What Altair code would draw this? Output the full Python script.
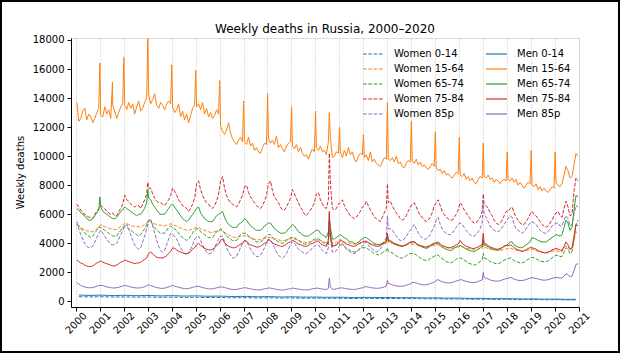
import altair as alt
import pandas as pd

YEARS = list(range(2000, 2021))

# ---- monthly weekly-death levels ----
w1564 = [
 [5300,5200,5100,5000,4950,4850,4850,4800,4800,4900,5000,5100],
 [5300,5200,5150,5100,5050,5000,5000,4950,4950,5050,5150,5250],
 [5400,5350,5300,5250,5200,5150,5150,5150,5100,5200,5300,5400],
 [5600,5500,5400,5350,5300,5250,5250,5200,5200,5250,5300,5350],
 [5300,5250,5200,5100,5050,5000,4950,4900,4900,4950,5000,5050],
 [5100,5100,5000,4950,4900,4850,4800,4750,4750,4800,4850,4850],
 [4900,4850,4750,4650,4600,4500,4450,4400,4400,4450,4500,4500],
 [4550,4500,4450,4400,4350,4300,4250,4250,4250,4300,4350,4350],
 [4400,4400,4350,4300,4300,4250,4200,4200,4200,4250,4300,4300],
 [4350,4300,4250,4200,4150,4100,4100,4050,4050,4100,4150,4200],
 [4250,4250,4200,4150,4100,4050,4300,4400,4000,4000,4050,4100],
 [4300,4150,4100,4050,4050,4000,3950,3950,3950,4000,4050,4050],
 [4100,4100,4050,4000,3950,3950,3900,3900,3900,3950,4000,4000],
 [4050,4050,4000,3950,3950,3900,3850,3850,3850,3900,3950,3950],
 [3950,3950,3900,3850,3850,3800,3800,3750,3750,3800,3850,3850],
 [3900,3900,3800,3750,3750,3700,3700,3650,3650,3700,3750,3750],
 [3800,3750,3700,3650,3650,3600,3600,3550,3550,3600,3650,3650],
 [3700,3700,3650,3600,3600,3550,3550,3500,3500,3550,3600,3600],
 [3650,3650,3650,3550,3550,3500,3500,3450,3450,3500,3550,3550],
 [3600,3550,3500,3450,3400,3400,3350,3350,3350,3400,3450,3500],
 [3500,3450,3400,3450,3650,3850,3750,3550,3600,4200,4800,4700],
]
w6574 = [
 [5300,5200,5000,4900,4700,4600,4500,4400,4500,4700,4900,5100],
 [5100,5000,4900,4800,4700,4600,4500,4500,4500,4700,4900,5100],
 [5200,5100,5000,4900,4800,4700,4600,4500,4600,4800,5000,5300],
 [5600,5500,5300,5100,4900,4800,4700,4700,4700,4900,5100,5200],
 [5100,5000,4900,4700,4500,4400,4300,4200,4300,4500,4700,4900],
 [5000,5000,4800,4700,4600,4500,4400,4400,4400,4600,4800,4900],
 [5000,4900,4700,4500,4400,4300,4200,4200,4200,4400,4600,4700],
 [4700,4700,4500,4400,4300,4200,4100,4100,4100,4200,4400,4500],
 [4600,4600,4400,4300,4200,4100,4050,4000,4050,4200,4300,4400],
 [4400,4400,4300,4200,4100,4000,3950,3950,4000,4100,4200,4300],
 [4300,4300,4200,4100,4000,3900,4200,4400,3800,3800,3900,4000],
 [3900,3900,3800,3700,3600,3500,3450,3400,3450,3550,3650,3700],
 [3700,3700,3600,3500,3400,3300,3250,3200,3250,3350,3450,3500],
 [3450,3400,3350,3250,3150,3050,3000,3000,3050,3150,3250,3300],
 [3300,3300,3200,3100,3000,2900,2850,2800,2850,2950,3050,3100],
 [3200,3200,3050,2950,2850,2750,2700,2650,2700,2800,2900,3000],
 [3000,2950,2850,2750,2650,2600,2550,2500,2550,2650,2750,2850],
 [3000,2950,2850,2750,2700,2650,2600,2600,2650,2750,2850,2900],
 [2950,3000,2950,2800,2750,2700,2650,2650,2700,2800,2900,2950],
 [3050,3000,2950,2850,2800,2750,2750,2750,2800,2900,3000,3100],
 [3200,3150,3100,3100,3400,3700,3600,3300,3400,4300,5300,5600],
]
w7584 = [
 [6700,6500,6300,6100,6000,5900,5800,5800,5700,6000,6200,6400],
 [6600,6500,6400,6200,6100,6000,6100,5900,5900,6200,6400,6700],
 [7300,7000,6900,6700,6600,6500,6600,6600,6400,6700,7000,7400],
 [7800,7800,7400,7100,6900,6800,6800,6700,6600,6800,7000,7300],
 [7800,7600,7300,7000,6800,6600,6500,6400,6200,6400,6700,7100],
 [8100,8300,7700,7300,7000,6800,6700,6500,6400,6600,6900,7400],
 [8300,8600,7800,7300,7000,6800,6700,6600,6500,6700,7000,7300],
 [7900,8000,7500,7200,7000,6800,6600,6500,6400,6600,6900,7300],
 [8100,8300,7600,7200,7000,6800,6500,6300,6300,6500,6800,7100],
 [7700,7400,7100,6800,6500,6300,6000,5900,6100,6300,6500,6800],
 [7400,7500,7000,6700,6500,6400,7000,8200,6400,6300,6400,6700],
 [6800,7000,6600,6300,6100,5900,5800,5700,5800,6000,6200,6500],
 [6600,6900,6600,6300,6100,5800,5700,5600,5500,5800,6100,6400],
 [6800,6900,6600,6300,6100,5900,5700,5600,5700,5900,6200,6500],
 [6700,6800,6500,6200,5900,5800,5600,5500,5600,5800,6100,6600],
 [6800,7000,6600,6200,6000,5800,5700,5600,5600,5800,6000,6300],
 [6800,6600,6300,6100,5900,5700,5500,5400,5400,5600,5800,6200],
 [6700,6600,6400,6100,5900,5600,5400,5300,5400,5600,5900,6200],
 [6200,6400,6500,6100,5800,5600,5400,5300,5300,5500,5700,6000],
 [6200,6000,5900,5700,5500,5300,5200,5100,5200,5400,5600,5900],
 [6100,6200,5900,5800,6400,6900,6500,5900,6000,7600,8500,8300],
]
w85p = [
 [5500,5000,4600,4300,4000,3800,3700,3700,3800,4100,4400,4700],
 [4900,4700,4500,4300,4100,3950,3900,3900,4000,4300,4600,4900],
 [5200,5300,5000,4600,4200,3900,3700,3600,3700,4100,4500,5000],
 [5500,5700,5200,4700,4200,3800,3500,3400,3500,3900,4300,4700],
 [4600,4500,4300,4000,3700,3500,3300,3200,3300,3600,3900,4300],
 [4400,4500,4200,3900,3600,3400,3300,3300,3400,3700,4000,4300],
 [4500,4500,4100,3700,3400,3200,3000,3000,3100,3400,3700,4000],
 [4200,4100,3900,3600,3400,3200,3100,3100,3200,3400,3700,4000],
 [4300,4200,4000,3700,3400,3200,3050,3000,3100,3300,3600,3900],
 [4100,4000,3800,3600,3500,3400,3300,3300,3400,3500,3700,3800],
 [3900,3900,3700,3500,3400,3300,3700,4400,3400,3400,3500,3700],
 [3900,4000,3800,3600,3500,3400,3300,3300,3400,3500,3700,3800],
 [4000,4100,3900,3700,3600,3500,3400,3500,3600,3900,4200,4400],
 [5000,5000,4900,4700,4500,4300,4200,4200,4300,4500,4700,4900],
 [5100,5300,5000,4700,4500,4400,4300,4300,4400,4600,4900,5200],
 [5600,5800,5300,5000,4800,4700,4600,4600,4700,4900,5100,5300],
 [5400,5300,5100,4900,4700,4600,4500,4500,4600,4800,5000,5400],
 [6000,5800,5500,5200,5000,4900,4800,4800,4900,5100,5300,5500],
 [5700,5900,5800,5300,5000,4900,4800,4700,4800,5000,5200,5400],
 [5500,5400,5300,5100,4900,4800,4700,4700,4800,5000,5200,5300],
 [5400,5400,5200,5200,5600,5900,5700,5200,5300,6000,6600,6500],
]
m1564 = [
 [13700,12400,12600,13100,13300,12500,12900,12700,12300,12600,13000,13300],
 [12800,12700,13400,12900,13200,12600,13500,13100,12600,13000,13400,13600],
 [13500,13200,13700,13300,13600,12900,13400,13800,13100,13300,13700,14000],
 [14200,13600,13900,14300,13500,13300,13700,13500,13200,13600,13800,13600],
 [13400,13000,13200,13600,12700,13100,12500,12900,12300,12800,13300,13500],
 [13400,13600,13200,13700,12900,13300,12700,13000,12600,12800,13200,12900],
 [12100,11700,11500,11800,12300,11600,11200,11000,10800,11100,11300,11000],
 [11000,10800,11300,10700,10900,10400,10600,10300,10200,10600,10900,10800],
 [11200,10900,11100,10800,11400,10600,10800,10500,10300,10700,10900,11000],
 [10700,10500,10800,10300,10600,10200,10000,10100,9800,10200,10500,10300],
 [10600,10400,10700,10300,10400,10100,11000,11300,9900,10000,10300,10200],
 [10300,9900,10400,10000,10600,10100,10300,9800,9600,10000,10200,10100],
 [9900,10100,9700,10300,9600,9800,9500,9400,9300,9600,9900,9800],
 [9800,9700,9900,9600,10000,9500,9600,9300,9200,9500,9700,9600],
 [9700,9500,9800,9400,9600,9300,9400,9200,9100,9300,9500,9300],
 [9200,9000,9100,8800,9000,8700,8800,8600,8500,8700,8900,8800],
 [8700,8600,8800,8400,8600,8300,8500,8200,8100,8400,8600,8500],
 [8600,8500,8700,8400,8500,8200,8400,8300,8100,8300,8400,8300],
 [8400,8300,8500,8200,8400,8000,8200,8000,7800,8000,8200,8100],
 [8000,7900,8100,7700,7900,7600,7800,7600,7500,7700,7900,7800],
 [8200,8000,7900,8100,8700,9300,9000,8500,8600,9400,10200,10000],
]
m6574 = [
 [6400,6300,6100,6000,5900,5700,5600,5600,5700,5900,6100,6300],
 [6500,6200,6100,6000,5900,5800,5700,5700,5800,6000,6200,6300],
 [6500,6400,6300,6200,6100,6000,5900,6000,6000,6200,6400,6800],
 [7100,7000,6700,6500,6300,6100,6000,6000,6000,6200,6400,6600],
 [6700,6500,6300,6100,5900,5700,5600,5500,5600,5800,6000,6200],
 [6400,6500,6100,5900,5700,5600,5500,5500,5500,5700,5900,6000],
 [6100,6200,5800,5500,5300,5200,5100,5100,5100,5300,5400,5500],
 [5700,5600,5400,5200,5100,5000,4900,4900,4900,5000,5200,5300],
 [5400,5400,5200,5000,4900,4800,4700,4700,4700,4800,5000,5100],
 [5300,5200,5000,4800,4700,4600,4500,4500,4500,4600,4700,4800],
 [4900,4900,4700,4600,4500,4400,4800,5100,4300,4300,4400,4500],
 [4600,4500,4400,4300,4200,4100,4100,4000,4000,4100,4200,4300],
 [4400,4400,4300,4200,4100,4000,3950,3900,3950,4000,4100,4200],
 [4250,4200,4100,4000,3950,3900,3850,3800,3850,3900,4000,4100],
 [4100,4100,4000,3900,3800,3750,3700,3650,3700,3800,3900,3950],
 [4000,4000,3850,3750,3650,3600,3550,3500,3550,3650,3750,3800],
 [3850,3800,3700,3600,3550,3500,3450,3450,3500,3600,3700,3800],
 [3900,3850,3750,3650,3600,3550,3550,3550,3600,3700,3800,3850],
 [3950,4100,4100,3900,3800,3750,3700,3700,3800,3900,4000,4100],
 [4400,4350,4300,4200,4150,4100,4100,4100,4200,4300,4400,4500],
 [4600,4550,4500,4600,5100,5600,5400,4900,5100,6300,7300,7200],
]
m7584 = [
 [2850,2750,2650,2600,2500,2450,2400,2400,2450,2550,2650,2700],
 [2800,2700,2650,2600,2550,2500,2450,2450,2500,2600,2700,2750],
 [2850,2800,2750,2700,2650,2600,2650,2650,2700,2800,2900,3000],
 [3300,3400,3300,3150,3050,3000,3000,3000,3050,3150,3300,3450],
 [3700,3650,3550,3450,3400,3350,3300,3300,3350,3450,3600,3700],
 [3900,4000,3850,3750,3650,3600,3550,3550,3600,3700,3850,3950],
 [4200,4300,4050,3900,3800,3750,3700,3700,3750,3850,3950,4000],
 [4200,4150,4000,3900,3850,3800,3750,3750,3800,3900,4000,4050],
 [4250,4200,4050,3950,3900,3850,3800,3800,3850,3950,4050,4100],
 [4200,4150,4050,3950,3900,3850,3800,3800,3850,3950,4000,4050],
 [4150,4150,4000,3900,3850,3800,4200,4600,3800,3850,3900,4000],
 [4200,4150,4050,3950,3900,3850,3800,3800,3850,3950,4000,4100],
 [4150,4150,4050,3950,3900,3850,3800,3800,3850,3950,4000,4100],
 [4150,4150,4050,3950,3900,3850,3800,3800,3850,3900,4000,4050],
 [4100,4100,4000,3900,3850,3800,3750,3750,3800,3850,3950,4000],
 [4050,4100,3950,3850,3800,3750,3700,3700,3750,3800,3900,3950],
 [4200,4000,3900,3800,3750,3700,3650,3650,3700,3750,3850,3900],
 [4000,3950,3850,3750,3700,3650,3600,3600,3650,3700,3800,3850],
 [3850,3900,3850,3700,3600,3550,3500,3450,3500,3550,3650,3700],
 [3700,3650,3600,3500,3450,3400,3350,3350,3400,3450,3550,3600],
 [3650,3600,3550,3500,3800,4100,3900,3600,3700,4500,5300,5200],
]
m85p = [
 [1300,1200,1100,1050,1000,950,950,950,950,1000,1050,1100],
 [1100,1100,1050,1000,980,950,930,930,950,980,1020,1060],
 [1100,1080,1040,1000,970,940,930,930,940,980,1020,1080],
 [1150,1100,1050,1000,960,930,910,900,920,960,1000,1050],
 [1100,1060,1020,980,940,910,890,880,890,930,970,1010],
 [1050,1040,1000,960,920,890,870,860,870,900,940,980],
 [1000,1000,960,920,880,850,830,820,830,860,890,920],
 [950,930,900,870,840,820,800,800,810,840,870,890],
 [930,920,890,860,830,810,790,790,800,830,860,880],
 [920,900,880,850,830,810,800,800,810,840,870,890],
 [920,910,880,860,840,820,900,1000,830,840,870,900],
 [940,930,910,880,860,840,830,830,850,880,910,940],
 [1000,1020,990,960,940,920,910,910,930,960,1000,1050],
 [1250,1200,1150,1100,1080,1050,1050,1050,1080,1120,1170,1220],
 [1300,1320,1270,1220,1180,1150,1150,1150,1180,1230,1280,1330],
 [1450,1500,1420,1360,1320,1290,1280,1280,1310,1360,1410,1450],
 [1500,1480,1430,1380,1350,1320,1300,1300,1330,1380,1430,1480],
 [1650,1600,1550,1480,1440,1410,1400,1400,1430,1480,1530,1570],
 [1600,1650,1620,1540,1490,1460,1440,1440,1470,1510,1560,1600],
 [1640,1620,1590,1550,1510,1480,1470,1470,1500,1540,1590,1630],
 [1650,1640,1610,1620,1750,1900,1850,1700,1750,2100,2550,2600],
]
# ---- quarterly levels for the 0-14 groups ----
m014 = [
 [445,425,415,430],[435,415,405,420],[425,405,400,410],[415,395,385,400],
 [400,380,375,385],[385,365,360,370],[365,350,340,350],[350,335,325,335],
 [335,320,310,320],[320,305,300,305],[300,290,290,290],[290,280,275,280],
 [285,275,270,275],[275,265,260,265],[260,250,245,250],[245,235,230,235],
 [225,215,210,215],[205,195,190,195],[190,180,175,180],[175,165,160,165],
 [160,150,145,150],
]
w014 = [
 [330,320,315,320],[325,315,305,310],[315,305,300,305],[305,295,290,295],
 [295,285,280,285],[285,275,270,275],[270,260,255,260],[260,250,245,250],
 [250,240,235,240],[240,230,225,230],[230,220,215,220],[220,210,205,210],
 [215,205,200,205],[210,200,195,200],[200,190,185,190],[185,175,170,175],
 [170,160,155,160],[160,150,145,150],[145,135,130,135],[135,125,120,125],
 [125,115,110,115],
]
# ---- single-week spikes (New Year weeks, summer 2010 heat wave) ----
spike_series = (["Men 15-64"] * 22
    + ["Men 65-74", "Men 65-74", "Women 75-84"]
    + ["Women 15-64", "Women 65-74", "Women 75-84", "Women 85p", "Men 65-74", "Men 75-84", "Men 85p"] * 3)
spike_dates = ([y + 0.005 for y in range(2001, 2021)] + [2001.53, 2010.58]
    + [2001.005, 2003.005, 2003.005]
    + [2010.58] * 7 + [2013.005] * 7 + [2017.005] * 7)
spike_values = ([16400, 16800, 18100, 16300, 15900, 15200, 13800, 14300, 13400, 13100,
                 12000, 11500, 13700, 12400, 11700, 11300, 10900, 10300, 10400, 10300, 15100, 13000]
    + [7200, 7700, 8200]
    + [4900, 5000, 10200, 6100, 5600, 6200, 1600]
    + [4400, 3700, 8100, 5900, 4600, 4700, 1450]
    + [4000, 3300, 7400, 6900, 4200, 4700, 2000])

monthly = {"Women 15-64": w1564, "Women 65-74": w6574, "Women 75-84": w7584, "Women 85p": w85p,
           "Men 15-64": m1564, "Men 65-74": m6574, "Men 75-84": m7584, "Men 85p": m85p}
quarterly = {"Women 0-14": w014, "Men 0-14": m014}

rows = []
for name, table in monthly.items():
    for y, vals in zip(YEARS, table):
        for m, v in enumerate(vals):
            rows.append((name, y + (m + 0.5) / 12, v))
for name, table in quarterly.items():
    for y, vals in zip(YEARS, table):
        for q, v in enumerate(vals):
            rows.append((name, y + (q + 0.5) / 4, v))
for name, d, v in zip(spike_series, spike_dates, spike_values):
    rows.append((name, d, v))
df = pd.DataFrame(rows, columns=["series", "date", "deaths"]).sort_values(["series", "date"])
df["sex"] = df["series"].str.split(" ").str[0]

women_names = ["Women 0-14", "Women 15-64", "Women 65-74", "Women 75-84", "Women 85p"]
men_names = ["Men 0-14", "Men 15-64", "Men 65-74", "Men 75-84", "Men 85p"]
palette = ["#1f77b4", "#ff7f0e", "#2ca02c", "#d62728", "#9467bd"]
DASH = [3.7, 1.6]

FONT = "DejaVu Sans"
def make_legend(lx, dash=None):
    kw = dict(title=None, orient="none", legendX=lx, legendY=8, direction="vertical",
              symbolType="M-1.5,0H1.5", symbolSize=196, symbolStrokeWidth=1.2,
              labelFont=FONT, labelFontSize=10, labelColor="black", labelOffset=12.5,
              rowPadding=2, padding=0)
    if dash:
        kw["symbolDash"] = dash
    return alt.Legend(**kw)

x = alt.X("date:Q", scale=alt.Scale(domain=[1999.8, 2021.0], nice=False, zero=False),
          axis=alt.Axis(values=list(range(2000, 2022)), format="d", title=None, labelAngle=315,
                        labelAlign="center", labelBaseline="middle", labelPadding=12, labelOverlap=False,
                        tickSize=4, grid=True, gridDash=[1, 2], gridColor="#c0c0c0", gridWidth=1,
                        domainColor="black", tickColor="black", labelColor="black",
                        labelFont=FONT, labelFontSize=10))
y = alt.Y("deaths:Q", scale=alt.Scale(domain=[-380, 18135], nice=False, zero=False),
          axis=alt.Axis(values=list(range(0, 18001, 2000)), format="d", title="Weekly deaths",
                        grid=False, tickSize=4, labelPadding=3, domainColor="black", tickColor="black",
                        labelColor="black", labelFont=FONT, labelFontSize=10,
                        titleFont=FONT, titleFontSize=10, titleFontWeight="normal", titleColor="black",
                        titleX=-51, titleY=134, titleAngle=270, titleBaseline="middle", titleAlign="center"))

base = alt.Chart(df)
women = base.transform_filter(alt.datum.sex == "Women").mark_line(strokeWidth=1, strokeDash=DASH).encode(
    x=x, y=y,
    stroke=alt.Stroke("series:N", scale=alt.Scale(domain=women_names, range=palette),
                      legend=make_legend(294.5, DASH)))
men = base.transform_filter(alt.datum.sex == "Men").mark_line(strokeWidth=1).encode(
    x=x, y=y,
    color=alt.Color("series:N", scale=alt.Scale(domain=men_names, range=palette),
                    legend=make_legend(417.5)))
frame = alt.Chart(pd.DataFrame({"k": [0]})).mark_rect(fillOpacity=0, stroke="black", strokeWidth=2).encode(
    x=alt.value(-70), x2=alt.value(548), y=alt.value(-37), y2=alt.value(314))

chart = alt.layer(women, men, frame).properties(
    width=508, height=269,
    title=alt.TitleParams("Weekly deaths in Russia, 2000\u20132020", anchor="middle", font=FONT,
                          fontSize=12, fontWeight="normal", color="black", offset=0, dy=45,
                          baseline="alphabetic"),
    autosize=alt.AutoSizeParams(type="none"),
    padding={"left": 71, "top": 38, "right": 41, "bottom": 46},
).configure_view(stroke=None).configure(background="white")

chart.save("out.html", embed_options={"renderer": "svg", "actions": False})
